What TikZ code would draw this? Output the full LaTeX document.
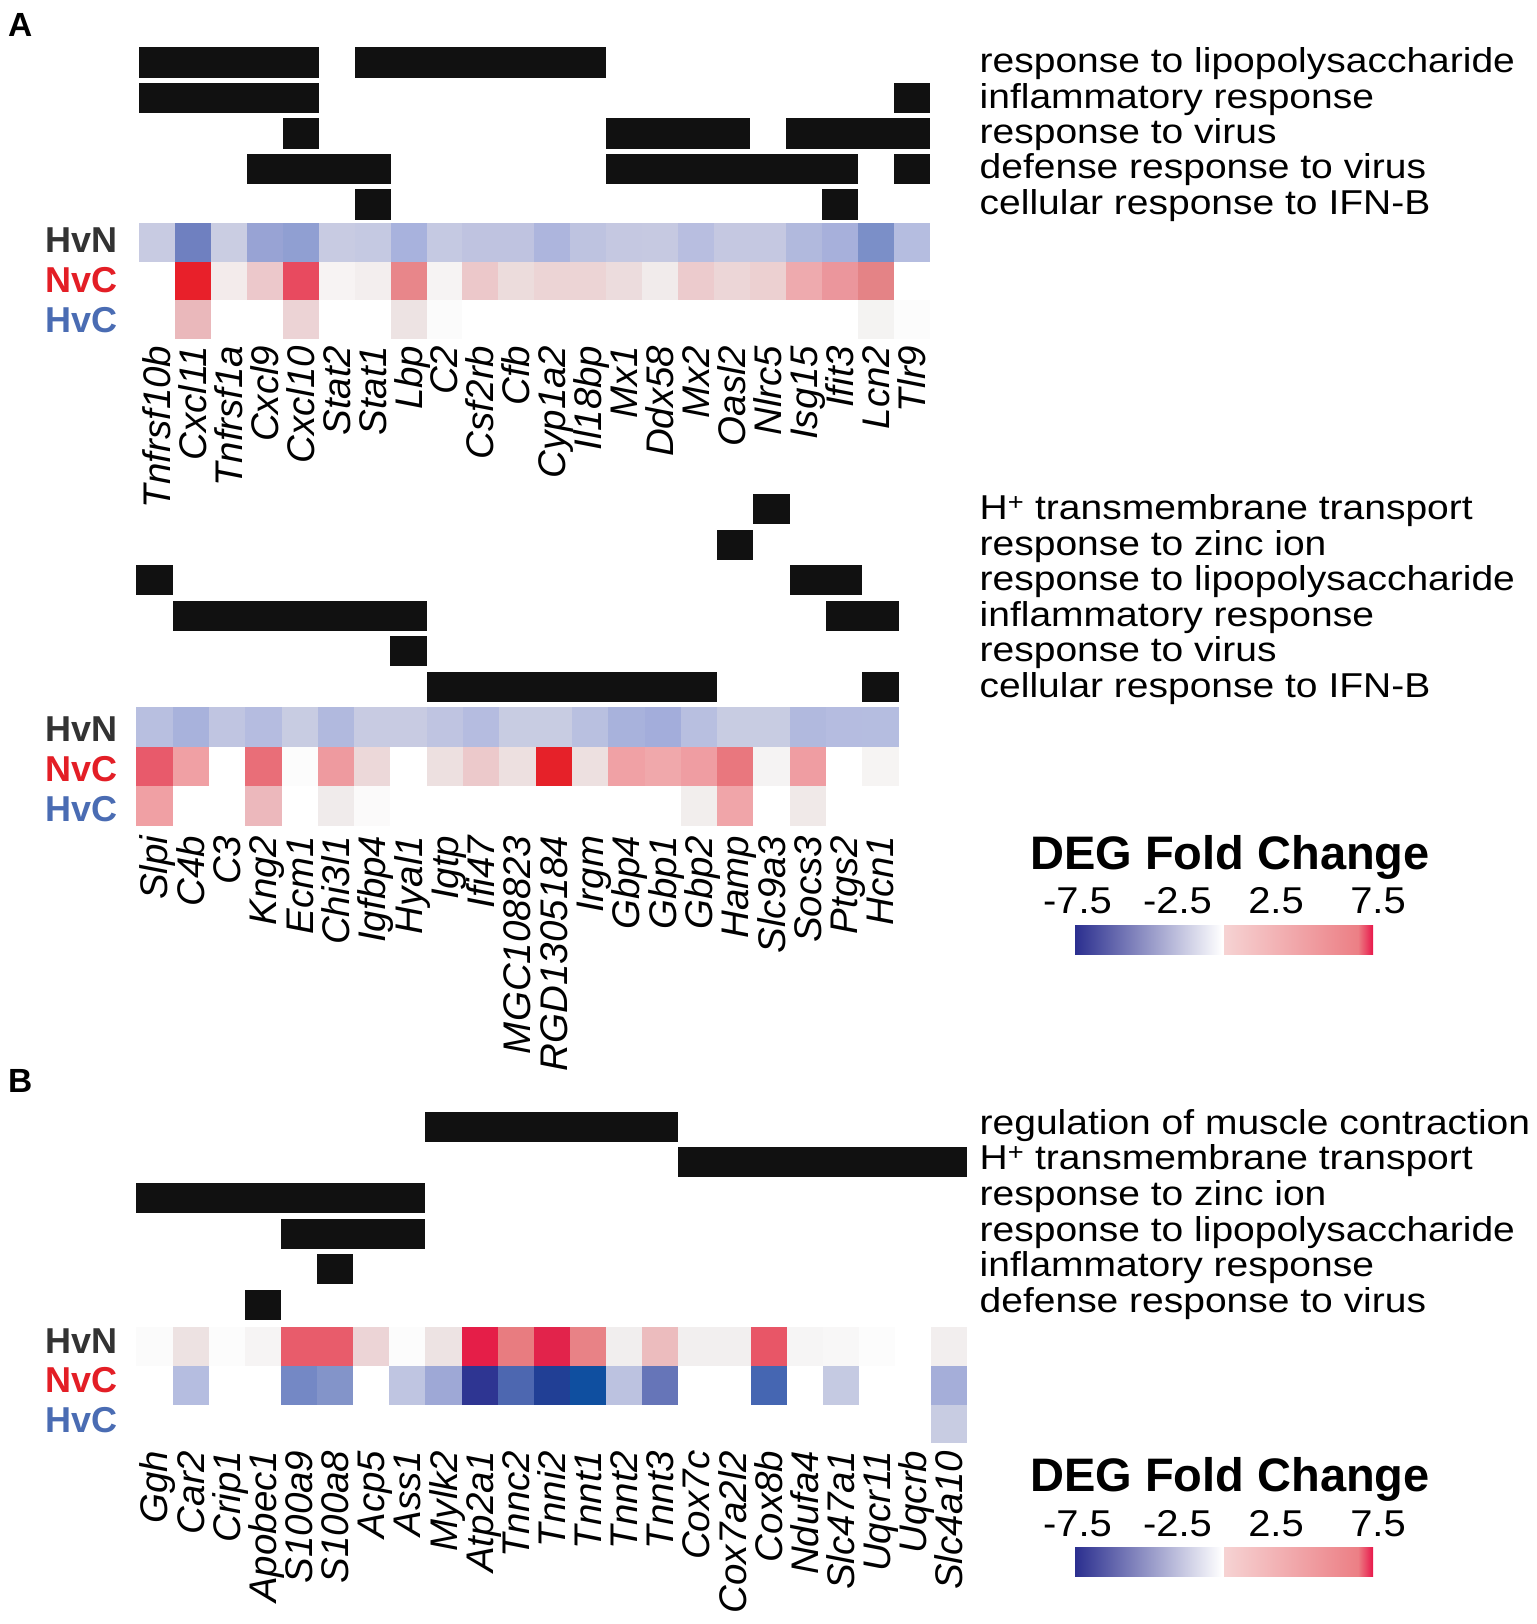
\documentclass[tikz,border=0pt]{standalone}
\usepackage{fontspec}
\setmainfont{Liberation Sans}
\newfontfamily\catfont[FakeStretch=1.13]{Liberation Sans}
\newfontfamily\tickfont[FakeStretch=1.07]{Liberation Sans}
\definecolor{hvncol}{HTML}{333333}
\definecolor{nvccol}{HTML}{E31E26}
\definecolor{hvccol}{HTML}{4A6CB3}
\definecolor{barcol}{HTML}{111111}
\definecolor{legblue}{HTML}{2B2F8F}
\definecolor{legpink}{HTML}{F6D3D3}
\definecolor{legmid}{HTML}{EC7F85}
\definecolor{legred}{HTML}{E8174A}
\begin{document}
\begin{tikzpicture}[
    x=1pt, y=-1pt,
    panel/.style={anchor=base west, inner sep=0pt, font=\bfseries\fontsize{33.5}{35}\selectfont},
    rowlab/.style={anchor=base east, inner sep=0pt, font=\bfseries\fontsize{36}{38}\selectfont},
    gene/.style={rotate=90, anchor=base east, inner sep=0pt, font=\itshape\fontsize{38.5}{40}\selectfont},
    catlab/.style={anchor=base west, inner sep=0pt, font=\catfont\fontsize{34.5}{36}\selectfont},
    legtitle/.style={anchor=base west, inner sep=0pt, font=\bfseries\fontsize{47}{49}\selectfont},
    legtick/.style={anchor=base, inner sep=0pt, font=\tickfont\fontsize{37.3}{39}\selectfont},
    goterm/.style={fill=barcol}
]
    \useasboundingbox (0,0) rectangle (1536,1624);

    % Panel labels
    \node [panel] (pA) at (8,37) {A};
    \node [panel] (pB) at (8,1092) {B};

    % Panel A, first heatmap: GO term bars
    \foreach \r/\a/\b in {0/0/4, 0/6/12, 1/0/4, 1/21/21, 2/4/4, 2/13/16, 2/18/21,
                          3/3/6, 3/13/19, 3/21/21, 4/6/6, 4/19/19}
        \fill [goterm] ({139+\a*35.94},{47.4+\r*35.4}) rectangle ({139+(\b+1)*35.94},{77.9+\r*35.4});
    \foreach \t [count=\i from 0] in {response to lipopolysaccharide, inflammatory response,
                                      response to virus, defense response to virus, cellular response to IFN-B}
        \node [catlab] (catA\i) at (979.5,{72.65+\i*35.4}) {\t};

    % Panel A, first heatmap: cells
    \foreach \c [count=\i from 0] in {C8CBE2,6F80C0,CACDE2,98A3D4,909FD2,C8CBE2,C5C9E2,A8B2DD,C5C9E2,BFC3E0,BFC3E0,
                                      ADB5DD,BEC3E0,C5C8E1,C6C9E1,B8BEE0,C5C8E1,C5C8E1,B1B9DD,A7B0DB,7B8FC8,B5BDE0}
        {\definecolor{cellc}{HTML}{\c}\fill [cellc] ({139+\i*35.94},223.3) rectangle ++(35.94,38.4);}
    \foreach \c [count=\i from 0] in {FFFFFF,E8202A,F3EBEB,ECC8CB,E84A5F,F7F3F3,F3EEEE,E8868A,F6F3F3,ECC8CA,ECDCDC,
                                      ECD4D5,ECD4D5,ECDCDD,F1EBEB,ECCBCD,ECD6D7,ECD0D1,EEAAAE,EB969C,E48386,FFFFFF}
        {\definecolor{cellc}{HTML}{\c}\fill [cellc] ({139+\i*35.94},261.7) rectangle ++(35.94,38.4);}
    \foreach \c [count=\i from 0] in {FFFFFF,EAB8BB,FFFFFF,FFFFFF,ECD3D5,FFFFFF,FFFFFF,EDE3E3,FBFBFB,FFFFFF,FFFFFF,
                                      FFFFFF,FFFFFF,FFFFFF,FFFFFF,FFFFFF,FFFFFF,FFFFFF,FFFFFF,FFFFFF,F4F3F2,FCFCFC}
        {\definecolor{cellc}{HTML}{\c}\fill [cellc] ({139+\i*35.94},300.1) rectangle ++(35.94,38.4);}
    \node [rowlab, text=hvncol] (hvnA) at (118,252) {HvN};
    \node [rowlab, text=nvccol] (nvcA) at (118,292) {NvC};
    \node [rowlab, text=hvccol] (hvcA) at (118,332.5) {HvC};
    \foreach \g [count=\i from 0] in {Tnfrsf10b,Cxcl11,Tnfrsf1a,Cxcl9,Cxcl10,Stat2,Stat1,Lbp,C2,Csf2rb,Cfb,
                                      Cyp1a2,Il18bp,Mx1,Ddx58,Mx2,Oasl2,Nlrc5,Isg15,Ifit3,Lcn2,Tlr9}
        \node [gene] (gA\i) at ({170.47+\i*35.94},345.5) {\g};

    % Panel A, second heatmap: GO term bars
    \foreach \r/\a/\b in {0/17/17, 1/16/16, 2/0/0, 2/18/19, 3/1/7, 3/19/20, 4/7/7, 5/8/15, 5/20/20}
        \fill [goterm] ({136.3+\a*36.3},{494+\r*35.54}) rectangle ({136.3+(\b+1)*36.3},{524.2+\r*35.54});
    \foreach \t [count=\i from 0] in {H\textsuperscript{+} transmembrane transport, response to zinc ion,
                                      response to lipopolysaccharide, inflammatory response,
                                      response to virus, cellular response to IFN-B}
        \node [catlab] (catM\i) at (979.5,{519.6+\i*35.54}) {\t};

    % Panel A, second heatmap: cells
    \foreach \c [count=\i from 0] in {B8BFE0,A8B2DC,C0C5E1,B5BCE0,C8CCE2,B1B9DE,C8CBE2,C8CBE2,BFC4E1,B5BCE0,C8CCE2,
                                      C8CCE2,B9C0E0,A8B2DC,A3ADDB,B8BFE0,C8CCE2,C8CCE2,B1B9DE,B5BCE0,B5BDE0}
        {\definecolor{cellc}{HTML}{\c}\fill [cellc] ({136.3+\i*36.3},707.3) rectangle ++(36.3,39.4);}
    \foreach \c [count=\i from 0] in {E85A6B,F0A0A4,FFFFFF,E96E78,FCFCFC,EE9A9F,ECD8D9,FFFFFF,EDE0E0,ECC9CB,EDE0E0,
                                      E62129,EDE0E0,F0A1A5,F0A8AB,EF9DA2,E9777E,F5F3F3,EF9DA2,FFFFFF,F6F4F3}
        {\definecolor{cellc}{HTML}{\c}\fill [cellc] ({136.3+\i*36.3},746.7) rectangle ++(36.3,39.4);}
    \foreach \c [count=\i from 0] in {F0A0A4,FFFFFF,FFFFFF,ECB8BC,FFFFFF,F0EBEB,FBFAFA,FFFFFF,FFFFFF,FFFFFF,FFFFFF,
                                      FFFFFF,FFFFFF,FFFFFF,FFFFFF,F2EEED,F0A5A9,FFFFFF,F0E9E8,FFFFFF,FFFFFF}
        {\definecolor{cellc}{HTML}{\c}\fill [cellc] ({136.3+\i*36.3},786.1) rectangle ++(36.3,39.4);}
    \node [rowlab, text=hvncol] (hvnM) at (118,741) {HvN};
    \node [rowlab, text=nvccol] (nvcM) at (118,781) {NvC};
    \node [rowlab, text=hvccol] (hvcM) at (118,821.5) {HvC};
    \foreach \g [count=\i from 0] in {Slpi,C4b,C3,Kng2,Ecm1,Chi3l1,Igfbp4,Hyal1,Igtp,Ifi47,MGC108823,
                                      RGD1305184,Irgm,Gbp4,Gbp1,Gbp2,Hamp,Slc9a3,Socs3,Ptgs2,Hcn1}
        \node [gene] (gM\i) at ({167.95+\i*36.3},835.5) {\g};

    % Legend of panel A
    \node [legtitle] (legA) at (1030,869.3) {DEG Fold Change};
    \foreach \v/\x [count=\k] in {-7.5/1077.5, -2.5/1177.5, 2.5/1276, 7.5/1378}
        \node [legtick] (tickA\k) at (\x,913.3) {\v};
    \shade [left color=legblue, right color=white] (1075,925.7) rectangle (1222,954.7);
    \shade [left color=legpink, right color=legmid] (1224,925.7) rectangle (1358,954.7);
    \shade [left color=legmid, right color=legred] (1358,925.7) rectangle (1373,954.7);

    % Panel B: GO term bars
    \foreach \r/\a/\b in {0/8/14, 1/15/22, 2/0/7, 3/4/7, 4/5/5, 5/3/3}
        \fill [goterm] ({136.4+\a*36.13},{1111.7+\r*35.66}) rectangle ({136.4+(\b+1)*36.13},{1141.7+\r*35.66});
    \foreach \t [count=\i from 0] in {regulation of muscle contraction, H\textsuperscript{+} transmembrane transport,
                                      response to zinc ion, response to lipopolysaccharide,
                                      inflammatory response, defense response to virus}
        \node [catlab] (catB\i) at (979.5,{1134.2+\i*35.66}) {\t};

    % Panel B: cells
    \foreach \c [count=\i from 0] in {FBFBFB,EDE2E2,FCFCFC,F6F4F4,E85C6B,E85C6B,ECD4D6,FCFCFC,EDE3E3,E51E48,E87C80,E2234B,
                                      E88286,F1EEEE,ECBCBE,F2EFEF,F2EFEF,E85667,F6F5F5,F8F7F7,FCFCFC,FFFFFF,F2EEEE}
        {\definecolor{cellc}{HTML}{\c}\fill [cellc] ({136.4+\i*36.13},1327.3) rectangle ++(36.13,38.67);}
    \foreach \c [count=\i from 0] in {FFFFFF,B5BDE0,FFFFFF,FFFFFF,7488C5,8394C9,FFFFFF,BFC5E1,9EA8D6,2E3592,4D67B0,213F95,
                                      0F4FA0,BCC2E0,6675B8,FFFFFF,FFFFFF,4566B2,FFFFFF,C5CAE2,FFFFFF,FFFFFF,A5AED9}
        {\definecolor{cellc}{HTML}{\c}\fill [cellc] ({136.4+\i*36.13},1366) rectangle ++(36.13,38.67);}
    \fill [fill={rgb,255:red,200;green,204;blue,226}] ({136.4+22*36.13},1404.7) rectangle ++(36.13,38.67);
    \node [rowlab, text=hvncol] (hvnB) at (118,1353.5) {HvN};
    \node [rowlab, text=nvccol] (nvcB) at (118,1392.5) {NvC};
    \node [rowlab, text=hvccol] (hvcB) at (118,1432) {HvC};
    \foreach \g [count=\i from 0] in {Ggh,Car2,Crip1,Apobec1,S100a9,S100a8,Acp5,Ass1,Mylk2,Atp2a1,Tnnc2,Tnni2,
                                      Tnnt1,Tnnt2,Tnnt3,Cox7c,Cox7a2l2,Cox8b,Ndufa4,Slc47a1,Uqcr11,Uqcrb,Slc4a10}
        \node [gene] (gB\i) at ({167.97+\i*36.13},1450.5) {\g};

    % Legend of panel B
    \node [legtitle] (legB) at (1030,1491) {DEG Fold Change};
    \foreach \v/\x [count=\k] in {-7.5/1077.5, -2.5/1177.5, 2.5/1276, 7.5/1378}
        \node [legtick] (tickB\k) at (\x,1536) {\v};
    \shade [left color=legblue, right color=white] (1075,1547.7) rectangle (1222,1576.7);
    \shade [left color=legpink, right color=legmid] (1224,1547.7) rectangle (1358,1576.7);
    \shade [left color=legmid, right color=legred] (1358,1547.7) rectangle (1373,1576.7);
\end{tikzpicture}
\end{document}
